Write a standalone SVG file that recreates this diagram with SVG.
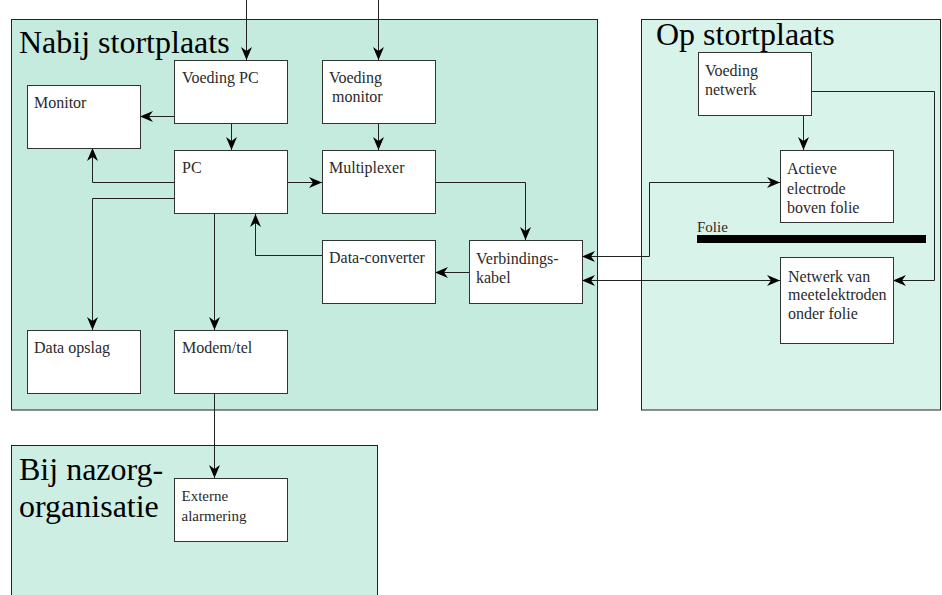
<svg xmlns="http://www.w3.org/2000/svg" width="942" height="595" viewBox="0 0 942 595">
<style>
.title{font-family:"Liberation Serif","Times New Roman",serif;font-size:32px;fill:#000}
.lbl{font-family:"Liberation Serif","Times New Roman",serif;font-size:16px;fill:#2a2a2a}
.box{fill:#fff;stroke:#333;stroke-width:1}
.cont{stroke:#222;stroke-width:1}
.con{fill:none;stroke:#222;stroke-width:1}
</style>
<defs>
<marker id="arr" viewBox="0 0 13 11" refX="13" refY="5.5" markerWidth="13" markerHeight="11" markerUnits="userSpaceOnUse" orient="auto-start-reverse">
<path d="M0,0 L13,5.5 L0,11 L4,5.5 z" fill="#000"/>
</marker>
</defs>

<g id="nabij-stortplaats">
<rect class="cont" x="11.5" y="19.5" width="586" height="390.5" fill="#c4ebde"/>
<text class="title" x="19" y="53">Nabij stortplaats</text>
</g>
<g id="op-stortplaats">
<rect class="cont" x="641.5" y="19.5" width="299" height="390.5" fill="#d8f3ea"/>
<text class="title" x="656" y="45">Op stortplaats</text>
</g>
<g id="bij-nazorg">
<rect class="cont" x="11.5" y="445.5" width="366" height="170" fill="#cdeee3"/>
<text class="title" x="19" y="480">Bij nazorg-</text>
<text class="title" x="19" y="517">organisatie</text>
</g>

<g id="connectors">
<path class="con" d="M246.5,0 V60" marker-end="url(#arr)"/>
<path class="con" d="M378.5,0 V60" marker-end="url(#arr)"/>
<path class="con" d="M174,116.5 H140" marker-end="url(#arr)"/>
<path class="con" d="M231.5,124 V150" marker-end="url(#arr)"/>
<path class="con" d="M378.5,124 V150" marker-end="url(#arr)"/>
<path class="con" d="M174,182.5 H92.5 V148" marker-end="url(#arr)"/>
<path class="con" d="M287,182.5 H322" marker-end="url(#arr)"/>
<path class="con" d="M174,198.5 H92.5 V330" marker-end="url(#arr)"/>
<path class="con" d="M214.5,214 V330" marker-end="url(#arr)"/>
<path class="con" d="M322,255.5 H255.5 V214" marker-end="url(#arr)"/>
<path class="con" d="M435,182.5 H525.5 V240" marker-end="url(#arr)"/>
<path class="con" d="M469,272.5 H435" marker-end="url(#arr)"/>
<path class="con" d="M582,256.5 H649.5 V182.5 H780" marker-start="url(#arr)" marker-end="url(#arr)"/>
<path class="con" d="M582,280.5 H780" marker-start="url(#arr)" marker-end="url(#arr)"/>
<path class="con" d="M803.5,116 V150" marker-end="url(#arr)"/>
<path class="con" d="M811,91.5 H934.5 V280.5 H893" marker-end="url(#arr)"/>
<path class="con" d="M214.5,394 V478" marker-end="url(#arr)"/>
</g>

<g id="voeding-pc">
<rect class="box" x="174.5" y="60.5" width="113" height="63"/>
<text class="lbl" x="182" y="83">Voeding PC</text>
</g>
<g id="monitor">
<rect class="box" x="27.5" y="85.5" width="113" height="63"/>
<text class="lbl" x="34" y="108">Monitor</text>
</g>
<g id="pc">
<rect class="box" x="174.5" y="150.5" width="113" height="63"/>
<text class="lbl" x="182" y="173">PC</text>
</g>
<g id="voeding-monitor">
<rect class="box" x="322.5" y="60.5" width="113" height="63"/>
<text class="lbl" x="329" y="83">Voeding</text>
<text class="lbl" x="332" y="101.5">monitor</text>
</g>
<g id="multiplexer">
<rect class="box" x="322.5" y="150.5" width="113" height="63"/>
<text class="lbl" x="329" y="173">Multiplexer</text>
</g>
<g id="data-converter">
<rect class="box" x="322.5" y="240.5" width="113" height="63"/>
<text class="lbl" x="329" y="263">Data-converter</text>
</g>
<g id="verbindingskabel">
<rect class="box" x="469.5" y="240.5" width="113" height="63"/>
<text class="lbl" x="476" y="264">Verbindings-</text>
<text class="lbl" x="476" y="282.5">kabel</text>
</g>
<g id="data-opslag">
<rect class="box" x="27.5" y="330.5" width="113" height="63"/>
<text class="lbl" x="34" y="353">Data opslag</text>
</g>
<g id="modem-tel">
<rect class="box" x="174.5" y="330.5" width="113" height="63"/>
<text class="lbl" x="182" y="353">Modem/tel</text>
</g>
<g id="externe-alarmering">
<rect class="box" x="174.5" y="478.5" width="113" height="63"/>
<text class="lbl" x="181.5" y="500.5" style="font-size:15px">Externe</text>
<text class="lbl" x="181.5" y="520.5" style="font-size:15px">alarmering</text>
</g>
<g id="voeding-netwerk">
<rect class="box" x="698.5" y="52.5" width="113" height="63"/>
<text class="lbl" x="705" y="75.5">Voeding</text>
<text class="lbl" x="705" y="94.5">netwerk</text>
</g>
<g id="actieve-electrode">
<rect class="box" x="780.5" y="150.5" width="113" height="72"/>
<text class="lbl" x="787" y="174">Actieve</text>
<text class="lbl" x="787" y="193.5">electrode</text>
<text class="lbl" x="787" y="212.5">boven folie</text>
</g>
<g id="folie">
<rect x="697" y="235" width="229" height="8" fill="#000"/>
<text class="lbl" x="697" y="231.5" style="font-size:15px">Folie</text>
</g>
<g id="netwerk-meetelektroden">
<rect class="box" x="780.5" y="257.5" width="113" height="86"/>
<text class="lbl" x="788" y="281.5">Netwerk van</text>
<text class="lbl" x="788" y="300">meetelektroden</text>
<text class="lbl" x="788" y="319">onder folie</text>
</g>
</svg>
